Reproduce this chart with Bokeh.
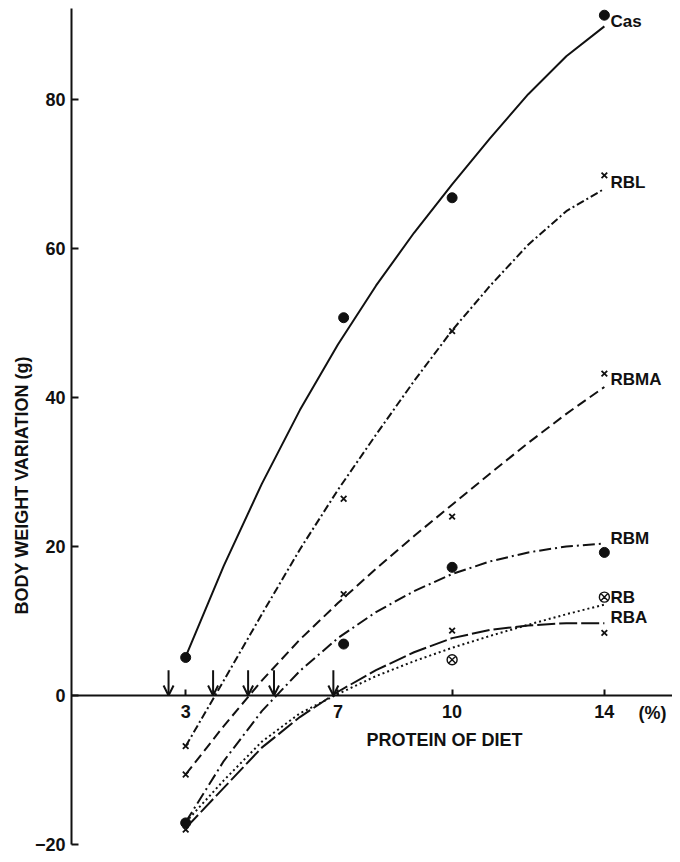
from bokeh.plotting import figure
from bokeh.models import (LinearAxis, FixedTicker, Range1d, Label, Arrow, OpenHead,
                          ColumnDataSource, Title)
from bokeh.core.properties import value
from bokeh.embed import file_html
from bokeh.resources import INLINE

# ---------------- data ----------------
protein_ticks = [3, 7, 10, 14]
y_ticks = [-20, 0, 20, 40, 60, 80]

# measured points
pt_x = [3, 7.15, 10, 14]
cas_pts = [5.1, 50.7, 66.8, 91.3]
rbl_pts = [-6.8, 26.4, 48.9, 69.8]
rbma_pts = [-10.6, 13.6, 24.0, 43.2]
rbm_pts = [-17.1, 6.9, 17.2, 19.2]
rb_pt_x = [10, 14]
rb_pts = [4.8, 13.2]
rba_pt_x = [3, 10, 14]
rba_pts = [-18.0, 8.7, 8.4]

# fitted curves
curve_x = [3, 4, 5, 6, 7, 8, 9, 10, 11, 12, 13, 14]
cas_curve = [5.2, 17.4, 28.4, 38.3, 47.1, 55.0, 62.1, 68.6, 74.8, 80.7, 85.8, 89.8]
rbl_curve = [-6.8, 2.0, 10.9, 19.6, 27.6, 35.0, 42.2, 49.0, 55.0, 60.5, 65.0, 68.0]
rbma_curve = [-10.6, -4.1, 2.0, 7.5, 12.4, 17.0, 21.4, 25.6, 29.8, 33.9, 37.8, 41.4]
rbm_curve = [-17.0, -8.8, -2.1, 3.3, 7.7, 11.2, 14.0, 16.3, 18.0, 19.2, 20.0, 20.4]
rb_curve = [-17.0, -11.4, -6.2, -2.4, 0.2, 2.6, 4.6, 6.4, 8.0, 9.5, 10.9, 12.2]
rba_curve = [-17.8, -12.4, -7.0, -2.9, 0.5, 3.4, 5.8, 7.7, 8.8, 9.4, 9.7, 9.7]

# zero-gain protein levels (arrows)
arrow_x = [2.55, 3.72, 4.64, 5.32, 6.88]

series_names = ["Cas", "RBL", "RBMA", "RBM", "RB", "RBA"]
series_label_y = [90.4, 68.9, 42.4, 21.1, 13.2, 10.4]

x_label = "PROTEIN OF DIET"
y_label = "BODY WEIGHT VARIATION (g)"
unit_label = "(%)"

# ---------------- figure ----------------
FONT = "Liberation Sans"
INK = "#111111"

p = figure(width=672, height=854, output_backend="svg", toolbar_location=None,
           x_range=Range1d(0, 15.79), y_range=Range1d(-20, 92.2),
           x_axis_location=None, y_axis_location=None,
           min_border_left=71, min_border_right=0, min_border_top=8, min_border_bottom=10)
p.outline_line_color = None
p.xgrid.visible = False
p.ygrid.visible = False
p.background_fill_color = "white"
p.border_fill_color = "white"

yax = LinearAxis(ticker=FixedTicker(ticks=y_ticks))
yax.axis_line_width = 2
yax.axis_line_color = INK
yax.major_tick_in = 7
yax.major_tick_out = 0
yax.major_tick_line_width = 2
yax.major_tick_line_color = INK
yax.minor_tick_line_color = None
yax.major_label_text_font = FONT
yax.major_label_text_font_style = "bold"
yax.major_label_text_font_size = "18px"
yax.major_label_text_color = INK
yax.major_label_standoff = 6
p.add_layout(yax, "left")

# vertical axis title, placed along the left margin
ytitle = Title(text=y_label, align="left", offset=230, text_font=FONT,
               text_font_style="bold", text_font_size="18px", text_color=INK,
               standoff=0)
p.add_layout(ytitle, "left")

xax = LinearAxis(ticker=FixedTicker(ticks=protein_ticks), fixed_location=0)
xax.axis_line_width = 2
xax.axis_line_color = INK
xax.major_tick_in = 6
xax.major_tick_out = 0
xax.major_tick_line_width = 2
xax.major_tick_line_color = INK
xax.minor_tick_line_color = None
xax.major_label_text_font = FONT
xax.major_label_text_font_style = "bold"
xax.major_label_text_font_size = "18px"
xax.major_label_text_color = INK
xax.major_label_standoff = 10
p.add_layout(xax, "below")

# curves
p.line(curve_x, cas_curve, line_color=INK, line_width=2)
p.line(curve_x, rbl_curve, line_color=INK, line_width=2, line_dash="8 3 2 3")
p.line(curve_x, rbma_curve, line_color=INK, line_width=2, line_dash="10 5")
p.line(curve_x, rbm_curve, line_color=INK, line_width=2, line_dash="12 4 2 4")
p.line(curve_x, rb_curve, line_color=INK, line_width=2, line_dash="2 3")
p.line(curve_x, rba_curve, line_color=INK, line_width=2, line_dash="18 4")

# points
p.scatter(pt_x, cas_pts, marker="circle", size=10, fill_color=INK, line_color=INK)
p.scatter(pt_x, rbm_pts, marker="circle", size=10, fill_color=INK, line_color=INK)
p.scatter(pt_x, rbl_pts, marker="x", size=8, line_color=INK, line_width=1.8)
p.scatter(pt_x, rbma_pts, marker="x", size=8, line_color=INK, line_width=1.8)
p.scatter(rba_pt_x, rba_pts, marker="x", size=8, line_color=INK, line_width=1.8)
p.scatter(rb_pt_x, rb_pts, marker="circle_x", size=10, fill_color=None,
          line_color=INK, line_width=1.4)

# arrows
asrc = ColumnDataSource(dict(x=arrow_x, y0=[3.4] * len(arrow_x), y1=[0] * len(arrow_x)))
p.add_layout(Arrow(end=OpenHead(size=10, line_width=2, line_color=INK),
                   x_start="x", y_start="y0", x_end="x", y_end="y1",
                   line_width=2, line_color=INK, source=asrc))

# series labels
lsrc = ColumnDataSource(dict(x=[14.16] * len(series_names), y=series_label_y, t=series_names))
p.text(x="x", y="y", text="t", source=lsrc, text_font=value(FONT), text_font_style="bold",
       text_font_size="17px", text_color=INK, text_align="left", text_baseline="middle")

# axis title / unit
p.add_layout(Label(x=14.9, y=-2.4, text=unit_label, text_font=FONT, text_font_style="bold",
                   text_font_size="18px", text_color=INK, text_align="left",
                   text_baseline="middle"))
p.add_layout(Label(x=9.8, y=-6.0, text=x_label, text_font=FONT, text_font_style="bold",
                   text_font_size="18px", text_color=INK, text_align="center",
                   text_baseline="middle"))

open("out.html", "w").write(file_html(p, INLINE))
